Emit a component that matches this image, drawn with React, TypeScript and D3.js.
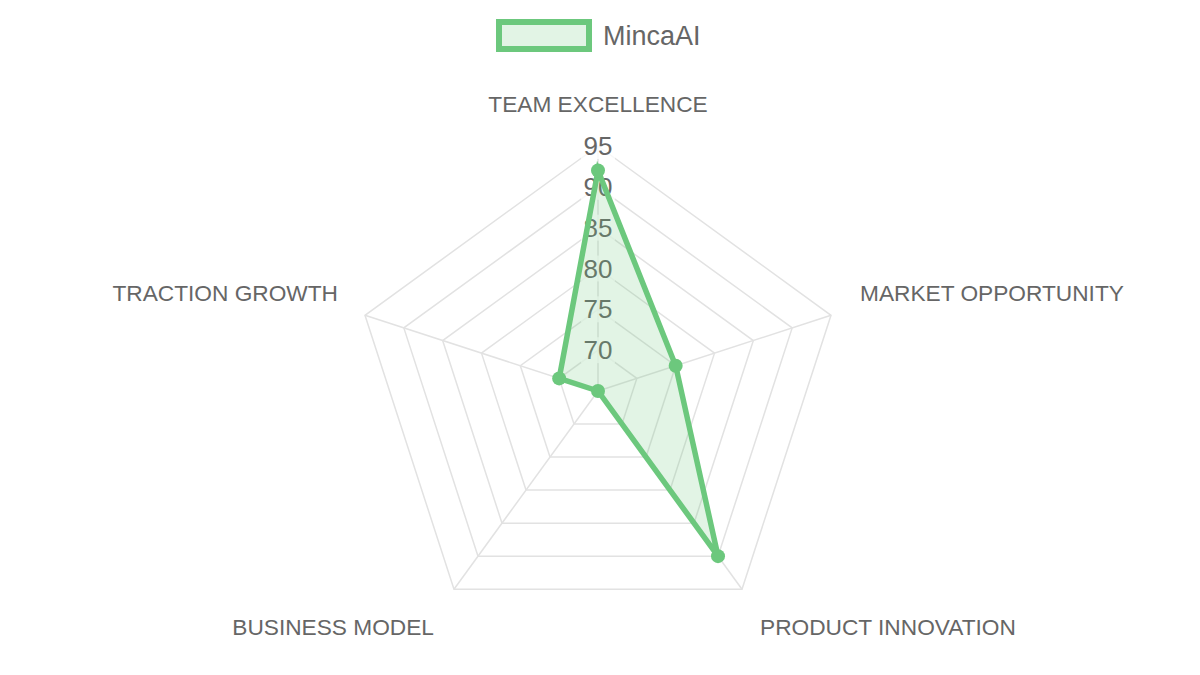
import React from "react";
import * as d3 from "d3";

const categories = ["TEAM EXCELLENCE", "MARKET OPPORTUNITY", "PRODUCT INNOVATION", "BUSINESS MODEL", "TRACTION GROWTH"];
const seriesName = "MincaAI";
const seriesValues = [92, 75, 90, 65, 70];
const tickValues = [70, 75, 80, 85, 90, 95];
const scaleMin = 65;
const scaleMax = 95;

const W = 1200;
const H = 675;
const cx = 598;
const cy = 391;
const R = 245;
const green = "rgb(108,200,125)";
const greenFill = "rgba(108,200,125,0.2)";
const gridColor = "#e2e2e2";
const textColor = "#666";
const font = "'Liberation Sans', Arial, Helvetica, sans-serif";

export default function App() {
  const r = d3.scaleLinear().domain([scaleMin, scaleMax]).range([0, R]);
  const n = categories.length;
  const angle = (i: number) => -Math.PI / 2 + (2 * Math.PI * i) / n;
  const pt = (i: number, v: number): [number, number] => [
    cx + r(v) * Math.cos(angle(i)),
    cy + r(v) * Math.sin(angle(i)),
  ];
  const ring = (v: number) =>
    d3.line()(d3.range(n).map((i) => pt(i, v)).concat([pt(0, v)])) as string;

  const dataPts = seriesValues.map((v, i) => pt(i, v));
  const dataPath = d3.line().curve(d3.curveLinearClosed)(dataPts) as string;

  const labelPos = categories.map((c, i) => {
    const a = angle(i);
    const cosA = Math.cos(a);
    let anchor = "middle";
    if (cosA > 0.1) anchor = "start";
    else if (cosA < -0.1) anchor = "end";
    let ly = 0;
    let lx = cx;
    if (i === 0) ly = cy - R - 42;
    else if (i === 1 || i === 4) {
      ly = cy - R * Math.cos((2 * Math.PI) / 5) - 22;
      lx = i === 1 ? cx + R * Math.sin((2 * Math.PI) / 5) + 29 : cx - R * Math.sin((2 * Math.PI) / 5) - 27;
    } else {
      ly = cy + R * Math.cos(Math.PI / 5) + 38;
      lx = i === 2 ? cx + R * Math.sin(Math.PI / 5) + 18 : cx - R * Math.sin(Math.PI / 5) - 20;
    }
    return { c, x: lx, y: ly, anchor };
  });

  return (
    <div style={{ position: "fixed", left: 0, top: 0 }}>
      <svg width={W} height={H} style={{ display: "block", background: "#fff" }} fontFamily={font}>
        {/* legend */}
        <rect x={499} y={22} width={90} height={27} fill={greenFill} stroke={green} strokeWidth={6} />
        <text x={603} y={35.5} dominantBaseline="central" fontSize={27} fill={textColor}>
          {seriesName}
        </text>

        {/* grid rings */}
        {tickValues.map((v) => (
          <path key={v} d={ring(v)} fill="none" stroke={gridColor} strokeWidth={1.5} />
        ))}
        {/* angle lines */}
        {categories.map((c, i) => {
          const [x, y] = pt(i, scaleMax);
          return <line key={c} x1={cx} y1={cy} x2={x} y2={y} stroke={gridColor} strokeWidth={1.5} />;
        })}

        {/* ticks */}
        {tickValues.map((v) => {
          const y = cy - r(v);
          return (
            <g key={"t" + v}>
              <rect x={cx - 17} y={y - 13} width={34} height={26} fill="rgba(255,255,255,0.75)" />
              <text x={cx} y={y} textAnchor="middle" dominantBaseline="central" fontSize={26} fill={textColor}>
                {v}
              </text>
            </g>
          );
        })}

        {/* point labels */}
        {labelPos.map((l) => (
          <text
            key={l.c}
            x={l.x}
            y={l.y}
            textAnchor={l.anchor as any}
            dominantBaseline="central"
            fontSize={22.7}
            fill={textColor}
          >
            {l.c}
          </text>
        ))}

        {/* data */}
        <path d={dataPath} fill={greenFill} stroke={green} strokeWidth={5.5} strokeLinejoin="miter" />
        {dataPts.map(([x, y], i) => (
          <circle key={i} cx={x} cy={y} r={7} fill={green} />
        ))}
      </svg>
    </div>
  );
}
